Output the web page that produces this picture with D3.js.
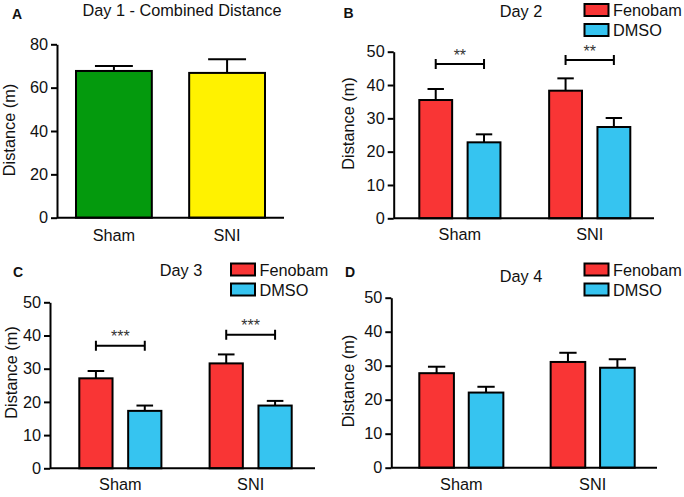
<!DOCTYPE html>
<html><head><meta charset="utf-8">
<script src="https://cdn.jsdelivr.net/npm/d3@7"></script>
<style>
html,body{margin:0;padding:0;background:#fff;}
svg{display:block;font-family:"Liberation Sans",Arial,Helvetica,sans-serif;}
</style></head>
<body>
<svg id="chart" width="684" height="497"></svg>
<script>
// ---------- data ----------
const categories = ["Sham", "SNI"];
const seriesNames = ["Fenobam", "DMSO"];

const day1Mean = [67.7, 66.8];
const day1Sem  = [2.3, 6.3];
const day1Colors = ["#049a0d", "#fff200"];

const day2Fenobam = [35.5, 38.3];
const day2FenobamSem = [3.3, 3.7];
const day2DMSO = [22.8, 27.4];
const day2DMSOSem = [2.4, 2.7];
const day2Sig = ["**", "**"];
const day2SigLevel = [46.3, 47.5];

const day3Fenobam = [27.1, 31.6];
const day3FenobamSem = [2.2, 2.7];
const day3DMSO = [17.3, 18.9];
const day3DMSOSem = [1.6, 1.4];
const day3Sig = ["***", "***"];
const day3SigLevel = [36.9, 40.2];

const day4Fenobam = [27.8, 31.1];
const day4FenobamSem = [1.9, 2.7];
const day4DMSO = [22.1, 29.4];
const day4DMSOSem = [1.7, 2.5];

const day1Ticks = [0, 20, 40, 60, 80];
const dayTicks = [0, 10, 20, 30, 40, 50];
const seriesColors = ["#f93535", "#36c4f0"];
const yLabel = "Distance (m)";

// ---------- helpers ----------
const svg = d3.select("#chart");
const FS = 16.3;

function yAxis(g, y, x, ticks) {
  const ax = g.append("g").attr("transform", `translate(${x},0)`)
    .call(d3.axisLeft(y).tickValues(ticks).tickSize(6).tickPadding(3).tickSizeOuter(0).tickFormat(d3.format("d")));
  ax.selectAll("path,line").attr("stroke", "#000").attr("stroke-width", 2);
  ax.selectAll("text").attr("font-size", FS).attr("fill", "#111").attr("font-family", "Liberation Sans, Arial, sans-serif");
}

function errBar(g, cx, w, yTop, yErr) {
  g.append("line").attr("x1", cx).attr("x2", cx).attr("y1", yTop).attr("y2", yErr)
    .attr("stroke", "#000").attr("stroke-width", 2);
  g.append("line").attr("x1", cx - w / 2).attr("x2", cx + w / 2).attr("y1", yErr).attr("y2", yErr)
    .attr("stroke", "#000").attr("stroke-width", 2);
}

function text(g, x, y, s, opts = {}) {
  return g.append("text").attr("x", x).attr("y", y).text(s)
    .attr("font-size", opts.size || FS)
    .attr("font-weight", opts.weight || "normal")
    .attr("text-anchor", opts.anchor || "start")
    .attr("fill", opts.fill || "#111");
}

function yTitle(g, x, cy) {
  g.append("text").attr("transform", `translate(${x},${cy}) rotate(-90)`)
    .attr("text-anchor", "middle").attr("font-size", FS).attr("fill", "#111").text(yLabel);
}

// ---------- Panel A ----------
(function () {
  const g = svg.append("g");
  const y = d3.scaleLinear().domain([0, 80]).range([217.7, 44.3]);
  const x = d3.scaleBand().domain(categories).range([76, 265]).paddingInner(0.33);
  const axisX = 57, axisEnd = 284;
  g.selectAll("rect.bar").data(categories).enter().append("rect")
    .attr("x", d => x(d)).attr("width", x.bandwidth())
    .attr("y", (d, i) => y(day1Mean[i])).attr("height", (d, i) => y(0) - y(day1Mean[i]))
    .attr("fill", (d, i) => day1Colors[i]).attr("stroke", "#000").attr("stroke-width", 2);
  categories.forEach((c, i) => {
    errBar(g, x(c) + x.bandwidth() / 2, x.bandwidth() / 2, y(day1Mean[i]), y(day1Mean[i] + day1Sem[i]));
    text(g, x(c) + x.bandwidth() / 2, y(0) + 23, c, { anchor: "middle" });
  });
  g.append("line").attr("x1", axisX).attr("x2", axisEnd).attr("y1", y(0)).attr("y2", y(0))
    .attr("stroke", "#000").attr("stroke-width", 2);
  yAxis(g, y, axisX, day1Ticks);
  yTitle(g, 15, 130);
  text(g, 182, 16, "Day 1 - Combined Distance", { anchor: "middle" });
  text(g, 12, 18.5, "A", { weight: "bold", size: 14 });
})();

// ---------- grouped panels ----------
function grouped(cfg) {
  const g = svg.append("g");
  const y = d3.scaleLinear().domain([0, 50]).range(cfg.yRange);
  const x0 = d3.scaleBand().domain(categories).range(cfg.groupRange).paddingInner(cfg.pi);
  const x1 = d3.scaleBand().domain(seriesNames).range([0, x0.bandwidth()]).paddingInner(cfg.pi2);
  const series = [
    { name: seriesNames[0], mean: cfg.fen, sem: cfg.fenSem, color: seriesColors[0] },
    { name: seriesNames[1], mean: cfg.dmso, sem: cfg.dmsoSem, color: seriesColors[1] }
  ];
  series.forEach(s => {
    g.selectAll(null).data(categories).enter().append("rect")
      .attr("x", d => x0(d) + x1(s.name)).attr("width", x1.bandwidth())
      .attr("y", (d, i) => y(s.mean[i])).attr("height", (d, i) => y(0) - y(s.mean[i]))
      .attr("fill", s.color).attr("stroke", "#000").attr("stroke-width", 2);
    categories.forEach((c, i) => {
      errBar(g, x0(c) + x1(s.name) + x1.bandwidth() / 2, x1.bandwidth() / 2,
        y(s.mean[i]), y(s.mean[i] + s.sem[i]));
    });
  });
  categories.forEach(c => text(g, x0(c) + x0.bandwidth() / 2, y(0) + 22, c, { anchor: "middle" }));
  g.append("line").attr("x1", cfg.axisX).attr("x2", cfg.axisEnd).attr("y1", y(0)).attr("y2", y(0))
    .attr("stroke", "#000").attr("stroke-width", 2);
  yAxis(g, y, cfg.axisX, dayTicks);
  yTitle(g, cfg.yTitleX, cfg.yTitleY);
  text(g, cfg.titleX, cfg.titleY, cfg.title, { anchor: "middle" });
  text(g, cfg.letterX, cfg.letterY, cfg.letter, { weight: "bold", size: 14 });

  if (cfg.sig) {
    categories.forEach((c, i) => {
      const xa = x0(c) + x1(seriesNames[0]) + x1.bandwidth() / 2;
      const xb = x0(c) + x1(seriesNames[1]) + x1.bandwidth() / 2;
      const yy = y(cfg.sigLevel[i]);
      g.append("path").attr("d", `M${xa},${yy - 5}V${yy + 5}M${xa},${yy}H${xb}M${xb},${yy - 5}V${yy + 5}`)
        .attr("stroke", "#000").attr("stroke-width", 2).attr("fill", "none");
      text(g, (xa + xb) / 2, yy - 3.5, cfg.sig[i], { anchor: "middle", fill: "#333", size: 16 });
    });
  }

  // legend
  series.forEach((s, i) => {
    const ly = cfg.legendY + i * 20;
    g.append("rect").attr("x", cfg.legendX).attr("y", ly).attr("width", 24).attr("height", 12)
      .attr("fill", s.color).attr("stroke", "#000").attr("stroke-width", 2);
    text(g, cfg.legendX + 28.5, ly + 12, s.name);
  });
}

grouped({
  fen: day2Fenobam, fenSem: day2FenobamSem, dmso: day2DMSO, dmsoSem: day2DMSOSem,
  sig: day2Sig, sigLevel: day2SigLevel,
  yRange: [218.3, 51.7], groupRange: [419.3, 630.3], pi: 0.375, pi2: 0.32,
  axisX: 393.7, axisEnd: 654, yTitleX: 354, yTitleY: 123.5,
  title: "Day 2", titleX: 521, titleY: 16.5, letter: "B", letterX: 343.5, letterY: 18.3,
  legendX: 584.5, legendY: 4
});

grouped({
  fen: day3Fenobam, fenSem: day3FenobamSem, dmso: day3DMSO, dmsoSem: day3DMSOSem,
  sig: day3Sig, sigLevel: day3SigLevel,
  yRange: [468.3, 302.3], groupRange: [79.3, 291.7], pi: 0.37, pi2: 0.32,
  axisX: 50, axisEnd: 315, yTitleX: 17, yTitleY: 372.5,
  title: "Day 3", titleX: 181, titleY: 276, letter: "C", letterX: 13, letterY: 276.7,
  legendX: 231, legendY: 263.5
});

grouped({
  fen: day4Fenobam, fenSem: day4FenobamSem, dmso: day4DMSO, dmsoSem: day4DMSOSem,
  sig: null,
  yRange: [467.7, 297.7], groupRange: [419.3, 634.7], pi: 0.36, pi2: 0.3,
  axisX: 391.3, axisEnd: 657, yTitleX: 354, yTitleY: 381,
  title: "Day 4", titleX: 521, titleY: 282.3, letter: "D", letterX: 345, letterY: 276.7,
  legendX: 584.5, legendY: 263.5
});
</script>
</body></html>
